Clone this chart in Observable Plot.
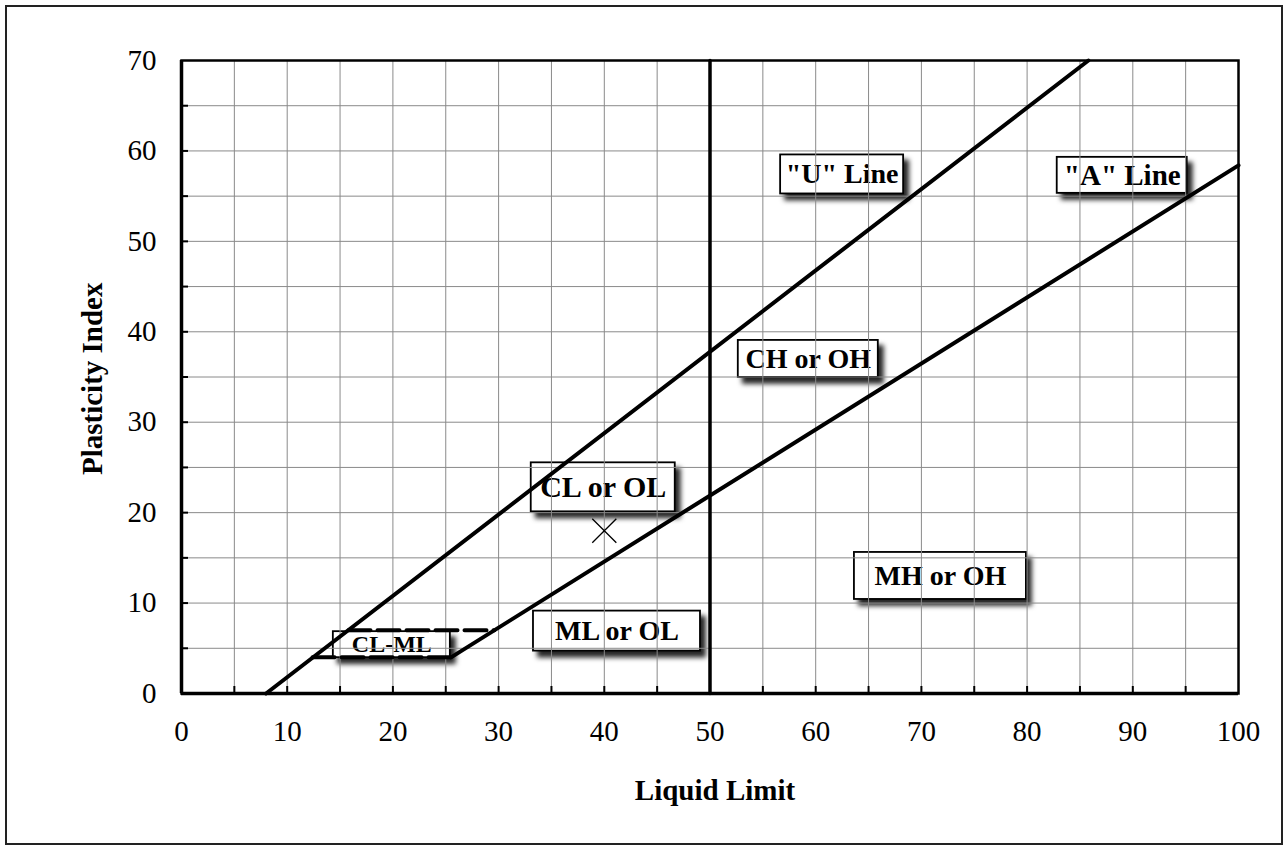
<!DOCTYPE html>
<html>
<head>
<meta charset="utf-8">
<script src="https://cdn.jsdelivr.net/npm/d3@7"></script>
<script src="https://cdn.jsdelivr.net/npm/@observablehq/plot@0.6"></script>
<style>
  html, body { margin: 0; padding: 0; background: #fff; }
  #wrap { position: relative; width: 1286px; height: 850px; overflow: hidden; }
  #border { position: absolute; left: 5px; top: 5px; width: 1274px; height: 836px; border: 2px solid #222; pointer-events: none; }
</style>
</head>
<body>
<div id="wrap"><div id="border"></div></div>
<script>
// ---- data ----
const xTickValues = [0, 10, 20, 30, 40, 50, 60, 70, 80, 90, 100];
const yTickValues = [0, 10, 20, 30, 40, 50, 60, 70];
const xGridValues = [5, 10, 15, 20, 25, 30, 35, 40, 45, 50, 55, 60, 65, 70, 75, 80, 85, 90, 95];
const yGridValues = [5, 10, 15, 20, 25, 30, 35, 40, 45, 50, 55, 60, 65];
const xTitle = "Liquid Limit";
const yTitle = "Plasticity Index";

const uLineLL = [8, 85.8];
const uLinePI = [0, 70];
const aLineLL = [25.5, 100];
const aLinePI = [4, 58.4];
const clmlLowLL = [12.4, 25.5];
const clmlLowPI = [4, 4];
const clmlHighLL = [15.8, 29.6];
const clmlHighPI = [7, 7];
const dividerLL = [50, 50];
const dividerPI = [0, 70];

const sampleLL = [40];
const samplePI = [18];

const labelNames = ['"U" Line', '"A" Line', 'CH or OH', 'CL or OL', 'MH or OH', 'ML or OL', 'CL-ML'];
const labelLL = [62.5, 89.0, 59.3, 39.9, 71.8, 41.2, 19.9];
const labelPI = [57.4, 57.3, 37.0, 22.8, 13.0, 6.9, 5.4];

// ---- build ----
const pts = (xs, ys) => xs.map((x, i) => ({x, y: ys[i]}));
const labels = labelNames.map((name, i) => ({name, ll: labelLL[i], pi: labelPI[i]}));
const samples = pts(sampleLL, samplePI);

// box sizes (px) and font sizes per label (style)
const boxSize = {
  '"U" Line': [123, 39], '"A" Line': [130, 36], 'CH or OH': [140, 37],
  'CL or OL': [144, 49], 'MH or OH': [172, 47], 'ML or OL': [167, 40], 'CL-ML': [117, 26]
};
const labelFont = {
  '"U" Line': 28, '"A" Line': 29, 'CH or OH': 28, 'CL or OL': 30,
  'MH or OH': 28, 'ML or OL': 28, 'CL-ML': 24
};

const font = "'Liberation Serif', 'Times New Roman', Times, serif";

const boxMarks = labels.map(d => {
  const [w, h] = boxSize[d.name];
  return Plot.rect([d], {
    x1: "ll", x2: "ll", y1: "pi", y2: "pi",
    insetLeft: -w / 2, insetRight: -w / 2, insetTop: -h / 2, insetBottom: -h / 2,
    fill: "white", stroke: "black", strokeWidth: 1.8, ariaLabel: "label box"
  });
});

const chart = Plot.plot({
  width: 1286,
  height: 850,
  marginLeft: 181,
  marginRight: 48,
  marginTop: 60,
  marginBottom: 157,
  style: {fontFamily: font, background: "transparent", color: "black"},
  x: {domain: [0, 100], axis: null},
  y: {domain: [0, 70], axis: null},
  marks: [
    ...boxMarks,
    Plot.text(labels, {
      x: "ll", y: "pi", text: "name", fontWeight: "bold",
      fontSize: d => labelFont[d.name], fill: "black"
    }),
    // grid
    Plot.ruleX(xGridValues, {x: d => d, y1: 0, y2: 70, stroke: "#8a8a8a", strokeWidth: 1}),
    Plot.ruleY(yGridValues, {y: d => d, x1: 0, x2: 100, stroke: "#8a8a8a", strokeWidth: 1}),
    // classification lines
    Plot.line(pts(uLineLL, uLinePI), {x: "x", y: "y", stroke: "black", strokeWidth: 4}),
    Plot.line(pts(aLineLL, aLinePI), {x: "x", y: "y", stroke: "black", strokeWidth: 4}),
    Plot.line(pts(dividerLL, dividerPI), {x: "x", y: "y", stroke: "black", strokeWidth: 3.5}),
    Plot.line(pts(clmlLowLL, clmlLowPI), {x: "x", y: "y", stroke: "black", strokeWidth: 4, strokeDasharray: "22,7"}),
    Plot.line(pts(clmlHighLL, clmlHighPI), {x: "x", y: "y", stroke: "black", strokeWidth: 4, strokeDasharray: "22,7"}),
    // sample
    Plot.dot(samples, {x: "x", y: "y", symbol: "times", r: 11, stroke: "black", strokeWidth: 1.3}),
    // frame + axes
    Plot.frame({stroke: "black", strokeWidth: 2.5}),
    Plot.ruleX([0], {x: d => d, y1: 0, y2: 70, stroke: "black", strokeWidth: 3.5}),
    Plot.ruleY([0], {y: d => d, x1: 0, x2: 100, stroke: "black", strokeWidth: 3.5}),
    // inward ticks
    Plot.ruleX(xGridValues, {x: d => d, y1: 0, y2: 0, insetTop: -7, stroke: "black", strokeWidth: 2}),
    Plot.ruleY(yGridValues, {y: d => d, x1: 0, x2: 0, insetRight: -7, stroke: "black", strokeWidth: 2}),
    // tick labels
    Plot.text(xTickValues, {x: d => d, y: 0, dy: 38.5, text: d => String(d), fontSize: 29, fill: "black"}),
    Plot.text(yTickValues, {x: 0, y: d => d, dx: -25, textAnchor: "end", text: d => String(d), fontSize: 29, fill: "black"}),
    // axis titles
    Plot.text([xTitle], {x: 50, y: 0, dx: 5, dy: 97, text: d => d, fontSize: 29, fontWeight: "bold", fill: "black"}),
    Plot.text([yTitle], {x: 0, y: 34.8, dx: -89, rotate: -90, text: d => d, fontSize: 29, fontWeight: "bold", fill: "black"})
  ]
});

// drop shadow for the label boxes
const svg = d3.select(chart.tagName.toLowerCase() === "svg" ? chart : chart.querySelector("svg"));
const defs = svg.insert("defs", ":first-child");
const f = defs.append("filter").attr("id", "boxShadow")
  .attr("x", "-20%").attr("y", "-30%").attr("width", "150%").attr("height", "180%");
f.append("feDropShadow").attr("dx", 5).attr("dy", 6).attr("stdDeviation", 2.5)
  .attr("flood-color", "#000").attr("flood-opacity", 0.85);
svg.selectAll("g").filter(function() {
  return this.getAttribute("aria-label") === "label box" ||
    (this.getAttribute("fill") === "white" && this.getAttribute("stroke") === "black");
}).attr("filter", "url(#boxShadow)");

document.getElementById("wrap").prepend(chart);
</script>
</body>
</html>
